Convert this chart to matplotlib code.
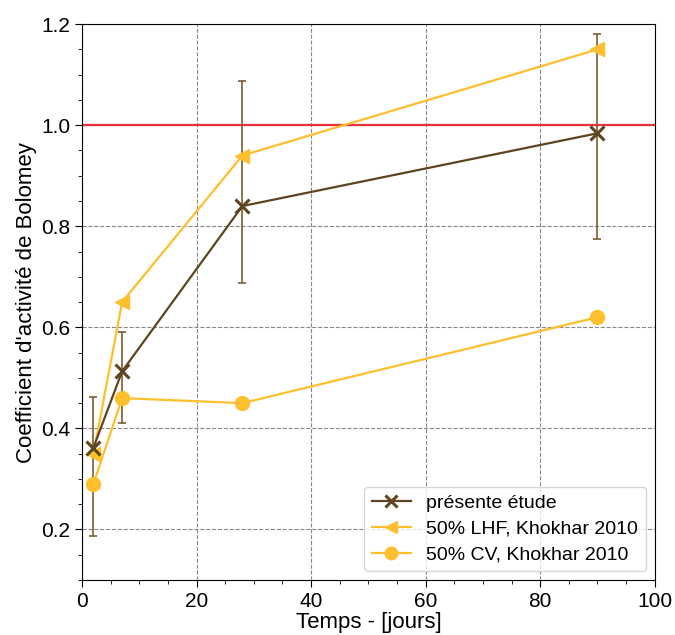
''' Bolomey activity coefficient vs time. '''

import matplotlib.pyplot as plt
from matplotlib.ticker import MultipleLocator

plt.rcParams['font.family'] = ['Liberation Sans', 'DejaVu Sans']

# data
temps = [2, 7, 28, 90]
etude = [0.362, 0.513, 0.84, 0.984]
err_bas = [0.174, 0.103, 0.152, 0.21]
err_haut = [0.10, 0.077, 0.248, 0.196]
lhf_khokhar = [0.35, 0.65, 0.94, 1.15]
cv_khokhar = [0.29, 0.46, 0.45, 0.62]

BRUN = '#5c4520'
JAUNE = '#fdbf2d'
ROUGE = '#e8313d'


def main():
    fig = plt.figure(figsize=(6.75, 6.35), dpi=100)
    ax = fig.add_axes([0.1215, 0.0866, 0.8485, 0.8754])

    ax.axhline(1.0, color=ROUGE, linewidth=1.6, zorder=1)

    ax.errorbar(temps, etude, yerr=[err_bas, err_haut], fmt='none',
                ecolor='#7a5c30', elinewidth=1.2, capsize=3, capthick=1.2, zorder=2)
    ax.plot(temps, etude, 'x-', color=BRUN, ms=10, mew=2.2, linewidth=1.6,
            label='présente étude', zorder=4)
    ax.plot(temps, lhf_khokhar, '<-', color=JAUNE, ms=10, linewidth=1.6,
            label='50% LHF, Khokhar 2010', zorder=3)
    ax.plot(temps, cv_khokhar, 'o-', color=JAUNE, ms=10, linewidth=1.6,
            label='50% CV, Khokhar 2010', zorder=3)

    ax.set_xlim(0, 100)
    ax.set_ylim(0.1, 1.2)
    ax.xaxis.set_major_locator(MultipleLocator(20))
    ax.xaxis.set_minor_locator(MultipleLocator(5))
    ax.yaxis.set_major_locator(MultipleLocator(0.2))
    ax.yaxis.set_minor_locator(MultipleLocator(0.05))
    ax.grid(True, which='major', linestyle='--', color='#888888', linewidth=0.8)
    ax.set_axisbelow(True)
    ax.tick_params(which='major', labelsize=15, length=5)
    ax.tick_params(which='minor', length=3)

    ax.set_xlabel('Temps - [jours]', fontsize=16, labelpad=1)
    ax.set_ylabel("Coefficient d'activité de Bolomey", fontsize=16, labelpad=3)

    ax.legend(loc='lower right', fontsize=14, markerscale=0.9, handlelength=2.0,
              labelspacing=0.42, borderaxespad=0.45)

    fig.savefig('out.png', dpi=100)


if __name__ == '__main__':
    main()
